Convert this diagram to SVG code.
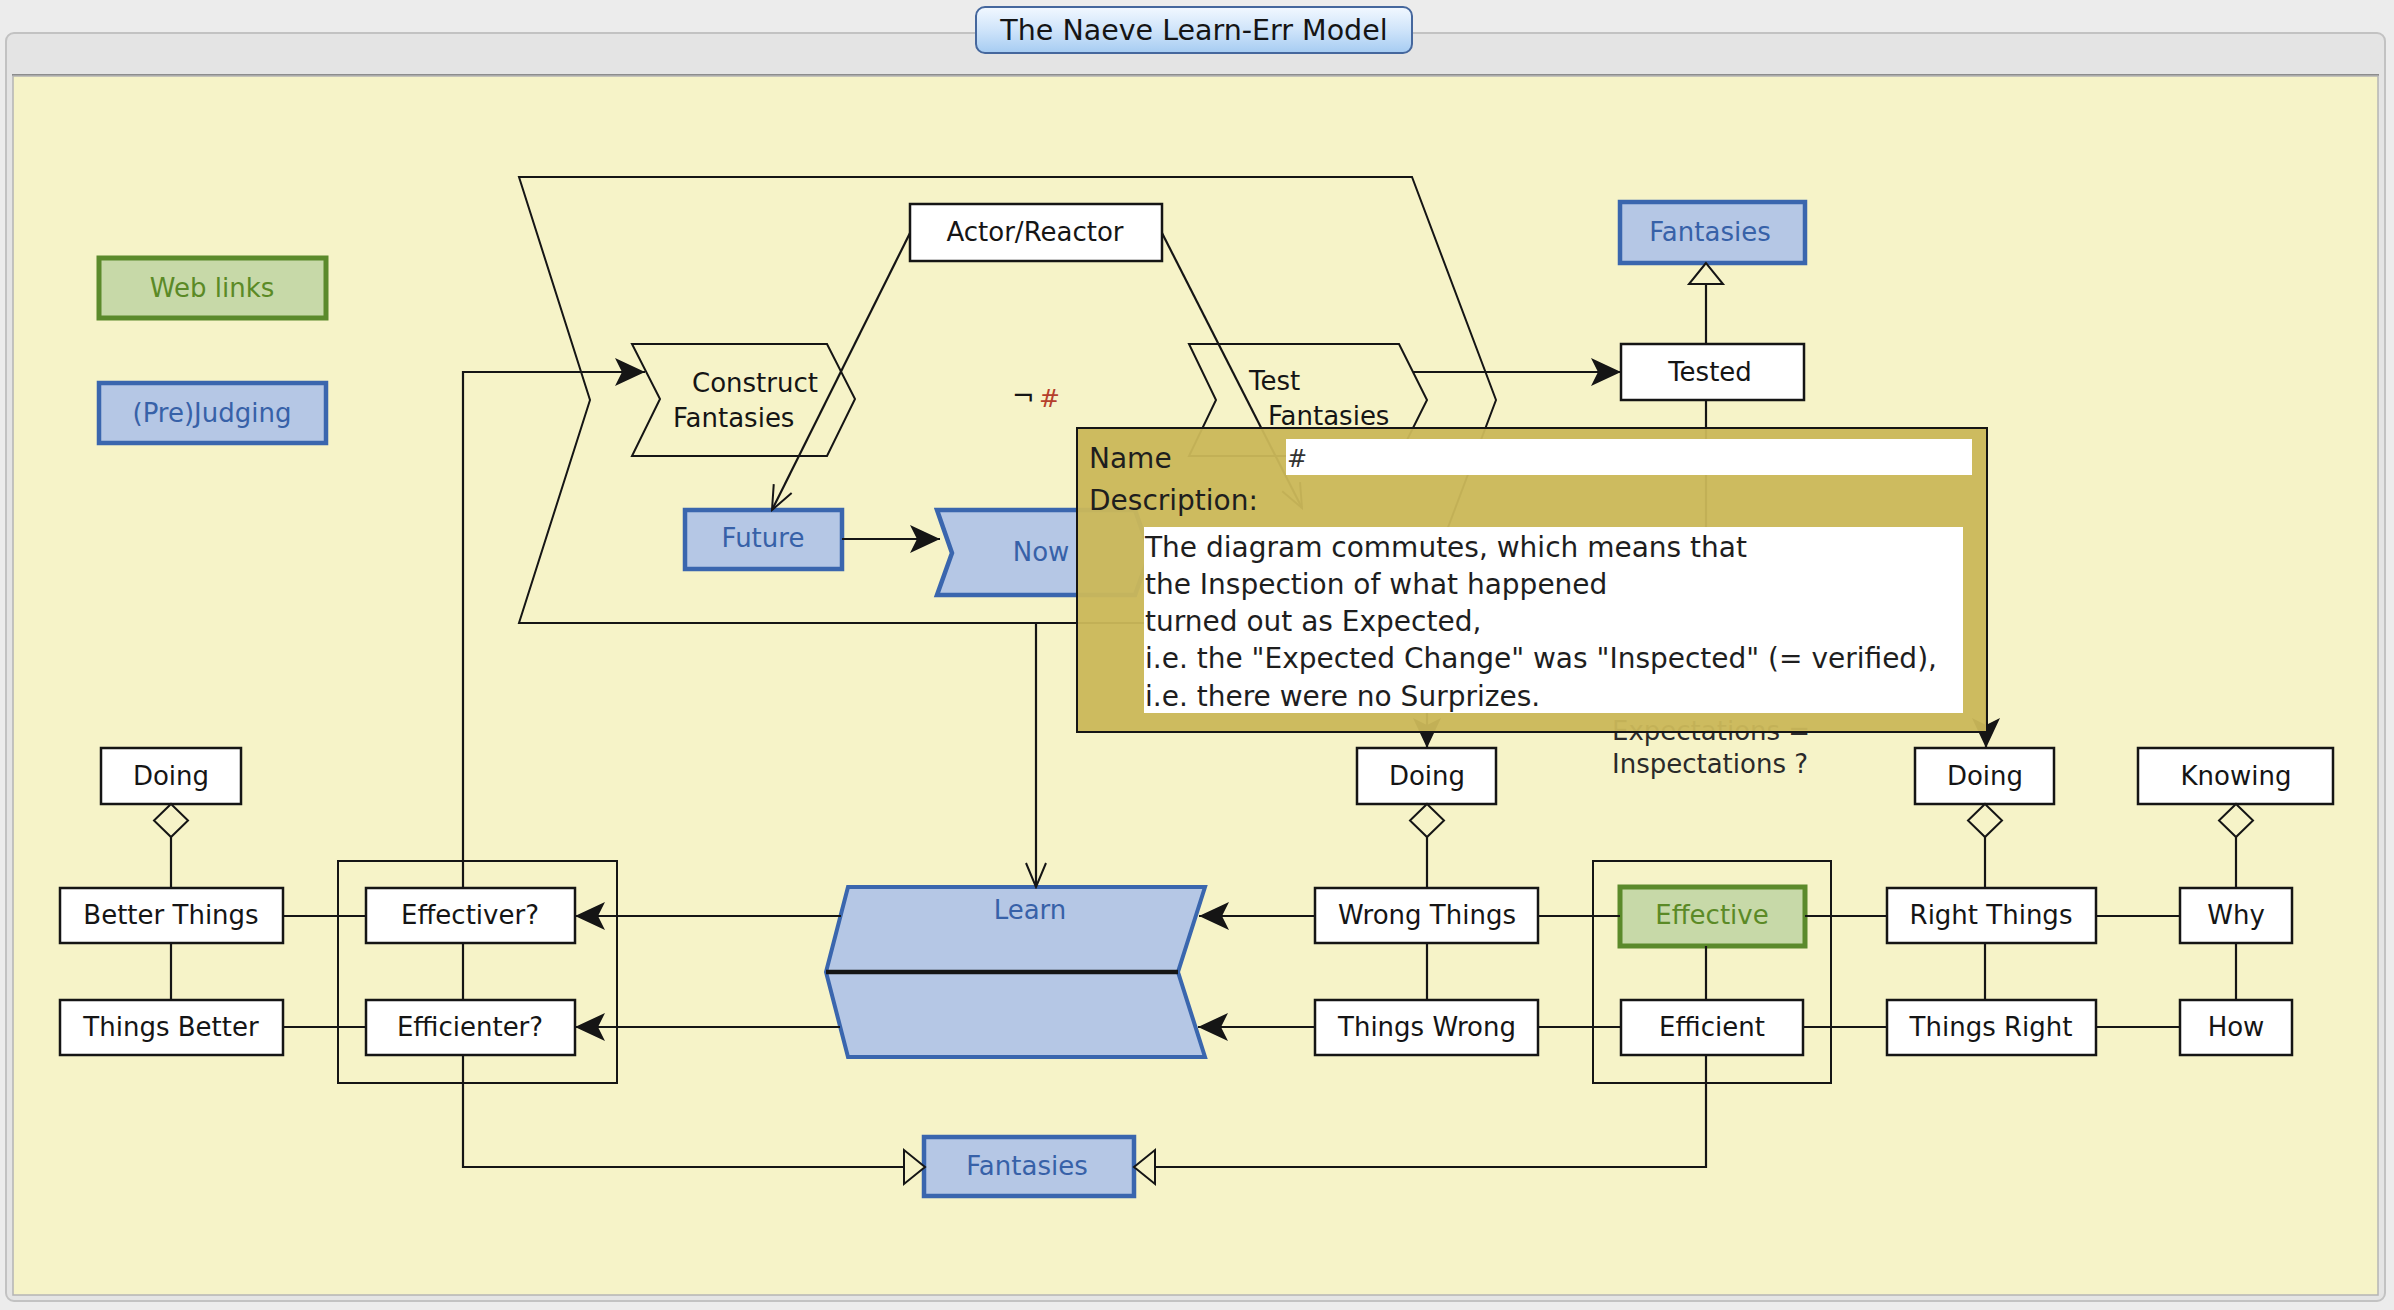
<svg xmlns="http://www.w3.org/2000/svg" width="2394" height="1310" viewBox="0 0 2394 1310">
<defs>
<style>
.t{font-family:"DejaVu Sans","Liberation Sans",sans-serif;font-size:26px;fill:#151515;text-anchor:middle}
.tl{font-family:"DejaVu Sans","Liberation Sans",sans-serif;font-size:26px;fill:#151515}
.tb{fill:#3761a8}
.tg{fill:#5b8a26}
.box{fill:#ffffff;stroke:#151515;stroke-width:2.5}
.bbox{fill:#b5c7e5;stroke:#3a66ae;stroke-width:4.5}
.gbox{fill:#c7d9a8;stroke:#5b8a2b;stroke-width:5}
.ln{fill:none;stroke:#151515;stroke-width:2.2}
.shape{fill:none;stroke:#151515;stroke-width:2}
.pop{font-family:"DejaVu Sans","Liberation Sans",sans-serif;font-size:28px;fill:#1e1e1e}
</style>
<linearGradient id="btn" x1="0" y1="0" x2="0" y2="1">
<stop offset="0" stop-color="#f2f8ff"/>
<stop offset="0.5" stop-color="#cfe4fa"/>
<stop offset="1" stop-color="#a6ccf2"/>
</linearGradient>
<marker id="arr" viewBox="-32 -16 34 32" refX="0" refY="0" markerWidth="34" markerHeight="32" markerUnits="userSpaceOnUse" orient="auto">
<path d="M0,0 L-30,-14 L-23,0 L-30,14 Z" fill="#151515"/>
</marker>
<marker id="vee" viewBox="-27 -13 29 26" refX="0" refY="0" markerWidth="29" markerHeight="26" markerUnits="userSpaceOnUse" orient="auto">
<path d="M-24,-10 L0,0 L-24,10" fill="none" stroke="#151515" stroke-width="2"/>
</marker>
<marker id="tri" viewBox="-24 -20 26 40" refX="0" refY="0" markerWidth="26" markerHeight="40" markerUnits="userSpaceOnUse" orient="auto">
<path d="M0,0 L-21,-17 L-21,17 Z" fill="#f6f3c8" stroke="#151515" stroke-width="2"/>
</marker>
<marker id="dia" viewBox="-2 -20 37 40" refX="0" refY="0" markerWidth="37" markerHeight="40" markerUnits="userSpaceOnUse" orient="auto">
<path d="M0,0 L16.5,-17 L33,0 L16.5,17 Z" fill="#f6f3c8" stroke="#151515" stroke-width="2"/>
</marker>
</defs>

<!-- window frame -->
<rect x="0" y="0" width="2394" height="1310" fill="#ececec"/>
<rect x="6" y="33" width="2379" height="1268" rx="8" fill="#e4e4e4" stroke="#c2c2c2" stroke-width="2"/>
<line x1="12" y1="75" x2="2379" y2="75" stroke="#8c8c8c" stroke-width="2"/>
<rect x="13" y="76" width="2365" height="1219" fill="#f6f3c8" stroke="#b4b4b4" stroke-width="1.5"/>

<g id="title">
<rect x="976" y="7" width="436" height="46" rx="9" fill="url(#btn)" stroke="#45679d" stroke-width="2"/>
<text x="1194" y="40" class="t" style="font-size:28.5px">The Naeve Learn-Err Model</text>
</g>

<g id="node-weblinks">
<rect x="99" y="258" width="227" height="60" class="gbox"/>
<text x="212" y="297" class="t tg">Web links</text>
</g>
<g id="node-prejudging">
<rect x="99" y="383" width="227" height="60" class="bbox"/>
<text x="212" y="422" class="t tb">(Pre)Judging</text>
</g>

<g id="node-process">
<polygon points="519,177 1412,177 1496,400 1412,623 519,623 590,400" class="shape"/>
</g>

<g id="node-actor">
<rect x="910" y="204" width="252" height="57" class="box"/>
<text x="1035" y="241" class="t">Actor/Reactor</text>
</g>

<g id="node-construct">
<polygon points="632,344 827,344 855,399 827,456 632,456 660,399" class="shape"/>
<text x="692" y="392" class="tl">Construct</text>
<text x="673" y="427" class="tl">Fantasies</text>
</g>

<g id="node-test">
<polygon points="1189,344 1399,344 1427,400 1399,456 1189,456 1216,400" class="shape"/>
<text x="1249" y="390" class="tl">Test</text>
<text x="1268" y="425" class="tl">Fantasies</text>
</g>

<g id="node-not">
<text x="1012" y="405" class="tl" style="font-size:27px">¬</text>
<text x="1039" y="407" class="tl" style="font-size:25px;fill:#b5402c">#</text>
</g>

<g id="node-future">
<rect x="685" y="510" width="157" height="59" class="bbox"/>
<text x="763" y="547" class="t tb">Future</text>
</g>

<g id="node-now">
<polygon points="937,510 1135,510 1150,553 1135,595 937,595 952,553" class="bbox"/>
<text x="1041" y="561" class="t tb">Now</text>
</g>

<g id="node-fantasies-top">
<rect x="1620" y="202" width="185" height="61" class="bbox"/>
<text x="1710" y="241" class="t tb">Fantasies</text>
</g>

<g id="node-tested">
<rect x="1621" y="344" width="183" height="56" class="box"/>
<text x="1710" y="381" class="t">Tested</text>
</g>

<g id="node-learn">
<polygon points="848,887 1205,887 1178,972 1205,1057 848,1057 826,972" fill="#b5c7e5" stroke="#3a66ae" stroke-width="4"/>
<line x1="826" y1="972" x2="1178" y2="972" stroke="#151515" stroke-width="4.5"/>
<text x="1030" y="919" class="t tb">Learn</text>
</g>

<g id="group-left">
<rect x="338" y="861" width="279" height="222" class="shape"/>
</g>
<g id="group-right">
<rect x="1593" y="861" width="238" height="222" class="shape"/>
</g>

<g id="node-doing-left">
<rect x="101" y="748" width="140" height="56" class="box"/>
<text x="171" y="785" class="t">Doing</text>
</g>
<g id="node-better-things">
<rect x="60" y="888" width="223" height="55" class="box"/>
<text x="171" y="924" class="t">Better Things</text>
</g>
<g id="node-things-better">
<rect x="60" y="1000" width="223" height="55" class="box"/>
<text x="171" y="1036" class="t">Things Better</text>
</g>
<g id="node-effectiver">
<rect x="366" y="888" width="209" height="55" class="box"/>
<text x="470" y="924" class="t">Effectiver?</text>
</g>
<g id="node-efficienter">
<rect x="366" y="1000" width="209" height="55" class="box"/>
<text x="470" y="1036" class="t">Efficienter?</text>
</g>

<g id="node-doing-mid">
<rect x="1357" y="748" width="139" height="56" class="box"/>
<text x="1427" y="785" class="t">Doing</text>
</g>
<g id="node-wrong-things">
<rect x="1315" y="888" width="223" height="55" class="box"/>
<text x="1427" y="924" class="t">Wrong Things</text>
</g>
<g id="node-things-wrong">
<rect x="1315" y="1000" width="223" height="55" class="box"/>
<text x="1427" y="1036" class="t">Things Wrong</text>
</g>

<g id="node-effective">
<rect x="1620" y="887" width="185" height="59" class="gbox"/>
<text x="1712" y="924" class="t tg">Effective</text>
</g>
<g id="node-efficient">
<rect x="1621" y="1000" width="182" height="55" class="box"/>
<text x="1712" y="1036" class="t">Efficient</text>
</g>

<g id="node-doing-right">
<rect x="1915" y="748" width="139" height="56" class="box"/>
<text x="1985" y="785" class="t">Doing</text>
</g>
<g id="node-right-things">
<rect x="1887" y="888" width="209" height="55" class="box"/>
<text x="1991" y="924" class="t">Right Things</text>
</g>
<g id="node-things-right">
<rect x="1887" y="1000" width="209" height="55" class="box"/>
<text x="1991" y="1036" class="t">Things Right</text>
</g>

<g id="node-knowing">
<rect x="2138" y="748" width="195" height="56" class="box"/>
<text x="2236" y="785" class="t">Knowing</text>
</g>
<g id="node-why">
<rect x="2180" y="888" width="112" height="55" class="box"/>
<text x="2236" y="924" class="t">Why</text>
</g>
<g id="node-how">
<rect x="2180" y="1000" width="112" height="55" class="box"/>
<text x="2236" y="1036" class="t">How</text>
</g>

<g id="node-fantasies-bottom">
<rect x="924" y="1137" width="210" height="59" class="bbox"/>
<text x="1027" y="1175" class="t tb">Fantasies</text>
</g>

<g id="node-expectations">
<text x="1612" y="740" class="tl" style="fill:#2a2a2a">Expectations =</text>
<text x="1612" y="773" class="tl" style="fill:#2a2a2a">Inspectations ?</text>
</g>

<g id="connectors">
<path d="M463,888 V372 H645" class="ln" marker-end="url(#arr)"/>
<path d="M910,233 L772,510" class="ln" marker-end="url(#vee)"/>
<path d="M1162,233 L1302,508" class="ln" marker-end="url(#vee)"/>
<path d="M842,539 H940" class="ln" marker-end="url(#arr)"/>
<path d="M1413,372 H1621" class="ln" marker-end="url(#arr)"/>
<path d="M1706,344 V263" class="ln" marker-end="url(#tri)"/>
<path d="M1706,400 V705" class="ln"/>
<path d="M1036,623 V887" class="ln" marker-end="url(#vee)"/>
<path d="M841,916 H575" class="ln" marker-end="url(#arr)"/>
<path d="M840,1027 H575" class="ln" marker-end="url(#arr)"/>
<path d="M1315,916 H1199" class="ln" marker-end="url(#arr)"/>
<path d="M1315,1027 H1198" class="ln" marker-end="url(#arr)"/>
<path d="M463,1055 V1167 H925" class="ln" marker-end="url(#tri)"/>
<path d="M1706,1055 V1167 H1134" class="ln" marker-end="url(#tri)"/>
<path d="M1427,680 V748" class="ln" marker-end="url(#arr)"/>
<path d="M1986,680 V748" class="ln" marker-end="url(#arr)"/>
<path d="M171,804 V888" class="ln" marker-start="url(#dia)"/>
<path d="M1427,804 V888" class="ln" marker-start="url(#dia)"/>
<path d="M1985,804 V888" class="ln" marker-start="url(#dia)"/>
<path d="M2236,804 V888" class="ln" marker-start="url(#dia)"/>
<path d="M171,943 V1000 M463,943 V1000 M1427,943 V1000 M1706,946 V1000 M1985,943 V1000 M2236,943 V1000" class="ln"/>
<path d="M283,916 H366 M283,1027 H366 M1538,916 H1620 M1538,1027 H1621 M1805,916 H1887 M1803,1027 H1887 M2096,916 H2180 M2096,1027 H2180" class="ln"/>
</g>

<g id="popup">
<rect x="1077" y="428" width="910" height="304" fill="#cbb85a" fill-opacity="0.955" stroke="#151515" stroke-width="2"/>
<text x="1089" y="468" class="pop">Name</text>
<rect x="1286" y="439" width="686" height="36" fill="#ffffff"/>
<text x="1287" y="467" class="pop" style="font-size:24px;fill:#333">#</text>
<text x="1089" y="510" class="pop">Description:</text>
<rect x="1144" y="527" width="819" height="186" fill="#ffffff"/>
<text class="pop" x="1145" y="557">The diagram commutes, which means that</text>
<text class="pop" x="1145" y="594">the Inspection of what happened</text>
<text class="pop" x="1145" y="631">turned out as Expected,</text>
<text class="pop" x="1145" y="668">i.e. the "Expected Change" was "Inspected" (= verified),</text>
<text class="pop" x="1145" y="706">i.e. there were no Surprizes.</text>
</g>
</svg>
